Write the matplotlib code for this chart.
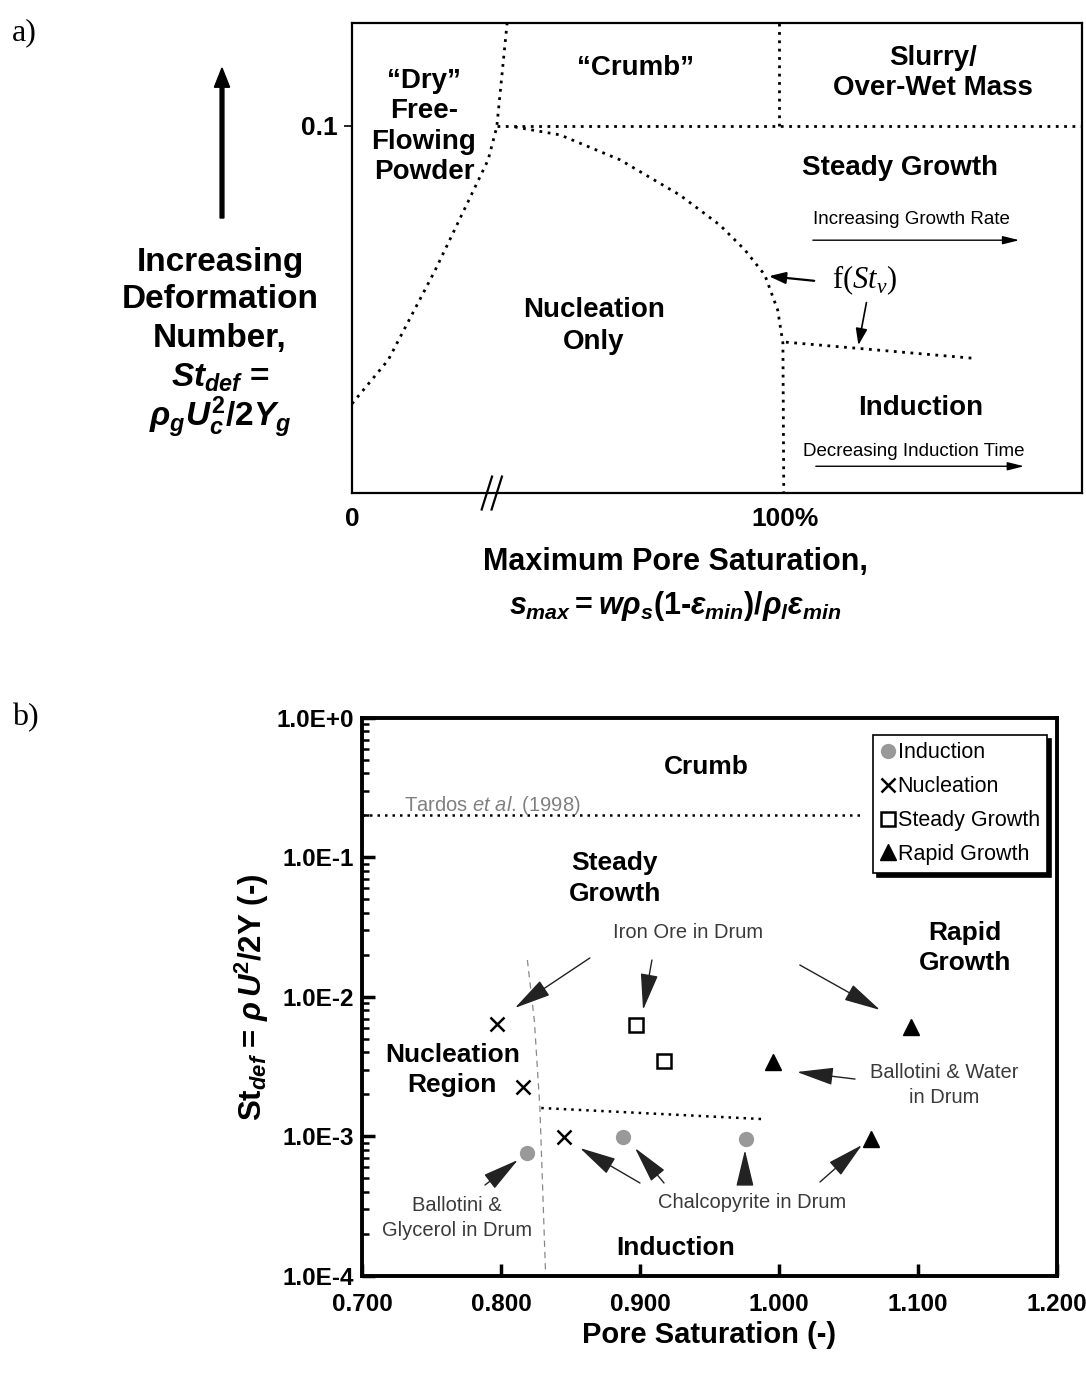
import numpy as np
import matplotlib
matplotlib.use("Agg")
import matplotlib.pyplot as plt

plt.rcParams['font.family'] = ['Liberation Sans', 'DejaVu Sans']
plt.rcParams['mathtext.fontset'] = 'custom'
plt.rcParams['mathtext.rm'] = 'Liberation Sans:bold'
plt.rcParams['mathtext.it'] = 'Liberation Sans:italic:bold'
plt.rcParams['mathtext.bf'] = 'Liberation Sans:bold'
plt.rcParams['mathtext.sf'] = 'Liberation Sans:italic'
plt.rcParams['mathtext.cal'] = 'Liberation Serif:italic'
plt.rcParams['mathtext.tt'] = 'Liberation Serif'

# ---- (a) regime map: boundaries in (saturation, deformation) map units ----
dry_x = [0.0, 0.084, 0.193, 0.271, 0.316, 0.336, 0.360]
dry_y = [0.190, 0.283, 0.474, 0.623, 0.709, 0.779, 1.0]
nuc_x = [0.378, 0.483, 0.622, 0.761, 0.854, 0.912, 0.958, 0.988, 1.0, 1.002]
nuc_y = [0.779, 0.762, 0.709, 0.634, 0.570, 0.517, 0.464, 0.389, 0.319, 0.0]
ind_x = [1.007, 1.439]
ind_y = [0.321, 0.287]
crumb_x = [0.336, 1.694]
crumb_y = [0.781, 0.781]
slurry_x = [0.99, 0.99]
slurry_y = [0.781, 1.0]

# ---- (b) experimental data ----
induction_s = [0.819, 0.888, 0.976]
induction_st = [7.6e-4, 9.9e-4, 9.6e-4]
nucleation_s = [0.797, 0.816, 0.845]
nucleation_st = [6.4e-3, 2.26e-3, 9.9e-4]
steady_s = [0.897, 0.917]
steady_st = [6.3e-3, 3.5e-3]
rapid_s = [0.996, 1.095, 1.066]
rapid_st = [3.4e-3, 6.1e-3, 9.6e-4]

tardos_s = [0.7, 1.06]
tardos_st = [0.2, 0.2]
indb_s = [0.829, 0.99]
indb_st = [1.6e-3, 1.33e-3]
nucb_s = [0.819, 0.824, 0.828, 0.832]
nucb_st = [0.0184, 6.8e-3, 1.6e-3, 1.1e-4]

xticks_b = [0.7, 0.8, 0.9, 1.0, 1.1, 1.2]
xlabels_b = ['0.700', '0.800', '0.900', '1.000', '1.100', '1.200']
yticks_b = [1e-4, 1e-3, 1e-2, 1e-1, 1e0]
ylabels_b = ['1.0E-4', '1.0E-3', '1.0E-2', '1.0E-1', '1.0E+0']

fig = plt.figure(figsize=(10.86, 13.73), dpi=100)

dot = dict(color='k', lw=2.0, linestyle=(0, (1, 2)))

# ================= panel a =================
ax = fig.add_axes([0.3241, 0.6409, 0.6722, 0.3423])
ax.set_xlim(0, 1.694)
ax.set_ylim(0, 1)
for sp in ax.spines.values():
    sp.set_linewidth(1.6)
ax.plot(dry_x, dry_y, **dot)
ax.plot(nuc_x, nuc_y, **dot)
ax.plot(ind_x, ind_y, **dot)
ax.plot(crumb_x, crumb_y, **dot)
ax.plot(slurry_x, slurry_y, **dot)

ax.set_xticks([0, 1.005])
ax.set_xticklabels(['0', '100%'], fontsize=19, fontweight='bold')
ax.tick_params(axis='x', length=0, pad=10)
ax.set_yticks([0.781])
ax.set_yticklabels(['0.1'], fontsize=19, fontweight='bold')
ax.tick_params(axis='y', length=6, width=1.2, pad=4)

# axis break
for xb in (0.313, 0.336):
    ax.plot([xb - 0.012, xb + 0.012], [-0.035, 0.035], color='k', lw=1.6,
            clip_on=False)

lab = dict(fontsize=20, fontweight='bold', ha='center', va='center')
ax.text(0.167, 0.78, '\u201cDry\u201d\nFree-\nFlowing\nPowder', linespacing=1.22, **lab)
ax.text(0.657, 0.904, '\u201cCrumb\u201d', **lab)
ax.text(1.348, 0.894, 'Slurry/\nOver-Wet Mass', linespacing=1.2, **lab)
ax.text(1.271, 0.691, 'Steady Growth', **lab)
ax.text(0.561, 0.355, 'Nucleation\nOnly', linespacing=1.28, **lab)
ax.text(1.320, 0.181, 'Induction', **lab)

ax.text(1.299, 0.583, 'Increasing Growth Rate', fontsize=13.5, ha='center', va='center')
ax.annotate('', xy=(1.555, 0.538), xytext=(1.063, 0.538),
            arrowprops=dict(arrowstyle='-|>,head_length=1.0,head_width=0.25', lw=1.0, color='k'))
ax.text(1.304, 0.089, 'Decreasing Induction Time', fontsize=13.5, ha='center', va='center')
ax.annotate('', xy=(1.566, 0.057), xytext=(1.070, 0.057),
            arrowprops=dict(arrowstyle='-|>,head_length=1.0,head_width=0.25', lw=1.0, color='k'))

ax.text(1.19, 0.453, r'$\mathtt{f(}\mathcal{St}_{\mathcal{v}}\mathtt{)}$', fontsize=22,
        ha='center', va='center')
ax.annotate('', xy=(0.961, 0.462), xytext=(1.079, 0.451),
            arrowprops=dict(arrowstyle='-|>,head_length=1.0,head_width=0.35', lw=1.6, color='k'))
ax.annotate('', xy=(1.174, 0.309), xytext=(1.195, 0.411),
            arrowprops=dict(arrowstyle='-|>,head_length=1.0,head_width=0.35', lw=1.2, color='k'))

# left-hand description of the ordinate
fig.patches.append(matplotlib.patches.FancyArrow(
    222 / 1086, 1 - 218 / 1373, 0, (218 - 68) / 1373, width=0.0035,
    head_width=0.014, head_length=0.014, length_includes_head=True,
    transform=fig.transFigure, color='k'))
ylab_lines = ['Increasing', 'Deformation', 'Number,', r'$St_{def}$ =',
              r'$\rho_gU_c^2/2Y_g$']
ylab_pos = [262, 300, 339, 378, 418]
for txt, py in zip(ylab_lines, ylab_pos):
    fig.text(220 / 1086, 1 - py / 1373, txt, fontsize=24, fontweight='bold',
             ha='center', va='center')

fig.text(675 / 1086, 1 - 562 / 1373, 'Maximum Pore Saturation,', fontsize=22,
         fontweight='bold', ha='center', va='center')
fig.text(675 / 1086, 1 - 606 / 1373,
         r'$s_{max}=w\rho_s(1$-$\varepsilon_{min})/\rho_l\varepsilon_{min}$',
         fontsize=22, fontweight='bold', ha='center', va='center')

fig.text(12 / 1086, 1 - 33 / 1373, 'a)', fontsize=23, family='Liberation Serif',
         ha='left', va='center')
fig.text(12 / 1086, 1 - 718 / 1373, 'b)', fontsize=23, family='Liberation Serif',
         ha='left', va='center')

# ================= panel b =================
bx = fig.add_axes([0.3333, 0.07065, 0.64, 0.40645])
bx.set_yscale('log')
bx.set_xlim(0.7, 1.2)
bx.set_ylim(1e-4, 1)
for sp in bx.spines.values():
    sp.set_linewidth(2.8)

bx.plot(tardos_s, tardos_st, color='k', lw=1.8, linestyle=(0, (1, 2)))
bx.plot(indb_s, indb_st, color='k', lw=1.8, linestyle=(0, (1, 2)))
bx.plot(nucb_s, nucb_st, color='#888888', lw=0.9, linestyle=(0, (5, 4)))

bx.plot(induction_s, induction_st, 'o', ms=10, color='#999999', mec='#999999',
        label='Induction')
bx.plot(nucleation_s, nucleation_st, 'x', ms=10, mew=1.8, color='k',
        label='Nucleation')
bx.plot(steady_s, steady_st, 's', ms=10, mew=1.8, mfc='white', mec='k',
        label='Steady Growth')
bx.plot(rapid_s, rapid_st, '^', ms=12, color='k', label='Rapid Growth')

bx.set_xticks(xticks_b)
bx.set_xticklabels(xlabels_b, fontsize=17.5, fontweight='bold')
bx.set_yticks(yticks_b)
bx.set_yticklabels(ylabels_b, fontsize=17.5, fontweight='bold')
bx.tick_params(axis='both', which='major', direction='in', length=9, width=2.5, pad=6)
bx.tick_params(axis='y', which='minor', direction='in', length=5, width=1.8)
bx.tick_params(axis='x', pad=12)

bx.set_xlabel('Pore Saturation (-)', fontsize=21, fontweight='bold', labelpad=4)
bx.set_ylabel(r'St$_{def}$ = $\rho\,U$$^2$/2Y (-)', fontsize=22.5,
              fontweight='bold', labelpad=4)

leg = bx.legend(loc='upper right', bbox_to_anchor=(0.986, 0.97), fontsize=15.5,
                handlelength=0.75, handletextpad=0.05, labelspacing=0.6,
                borderpad=0.35, borderaxespad=0, fancybox=False,
                framealpha=1, edgecolor='k',
                shadow={'color': 'k', 'alpha': 1, 'ox': 3, 'oy': -3})
leg.get_frame().set_linewidth(1.2)

reg = dict(fontsize=19, fontweight='bold', ha='center', va='center')
bx.text(0.948, 0.445, 'Crumb', **reg)
bx.text(0.882, 0.071, 'Steady\nGrowth', linespacing=1.35, **reg)
bx.text(1.134, 0.0224, 'Rapid\nGrowth', linespacing=1.35, **reg)
bx.text(0.765, 3.0e-3, 'Nucleation\nRegion', linespacing=1.35, **reg)
bx.text(0.926, 1.6e-4, 'Induction', **reg)

bx.text(0.730, 0.235, r'Tardos $\mathsf{et\ al}$. (1998)', fontsize=14.5,
        color='#808080', ha='left', va='center')

note = dict(fontsize=14.5, color='#3a3a3a', ha='center', va='center')
bx.text(0.9345, 0.0288, 'Iron Ore in Drum', **note)
bx.text(1.119, 2.34e-3, 'Ballotini & Water\nin Drum', linespacing=1.35, **note)
bx.text(0.9806, 3.39e-4, 'Chalcopyrite in Drum', **note)
bx.text(0.7683, 2.6e-4, 'Ballotini &\nGlycerol in Drum', linespacing=1.35, **note)

arrows = [
    ((0.864, 0.01905), (0.810, 8.34e-3)),
    ((0.9086, 0.0184), (0.9022, 8.07e-3)),
    ((1.015, 0.01695), (1.0727, 8.07e-3)),
    ((1.0547, 2.58e-3), (1.0129, 2.90e-3)),
    ((0.7885, 4.49e-4), (0.8122, 6.79e-4)),
    ((0.900, 4.64e-4), (0.8568, 8.27e-4)),
    ((0.9173, 4.64e-4), (0.8964, 8.27e-4)),
    ((0.9755, 4.88e-4), (0.9755, 8.0e-4)),
    ((1.0295, 4.72e-4), (1.0597, 8.69e-4)),
]
for start, end in arrows:
    bx.annotate('', xy=end, xytext=start,
                arrowprops=dict(arrowstyle='-|>,head_length=2.3,head_width=0.55',
                                lw=1.0, color='#222222', shrinkA=0, shrinkB=0))

fig.savefig('out.png', dpi=100)
